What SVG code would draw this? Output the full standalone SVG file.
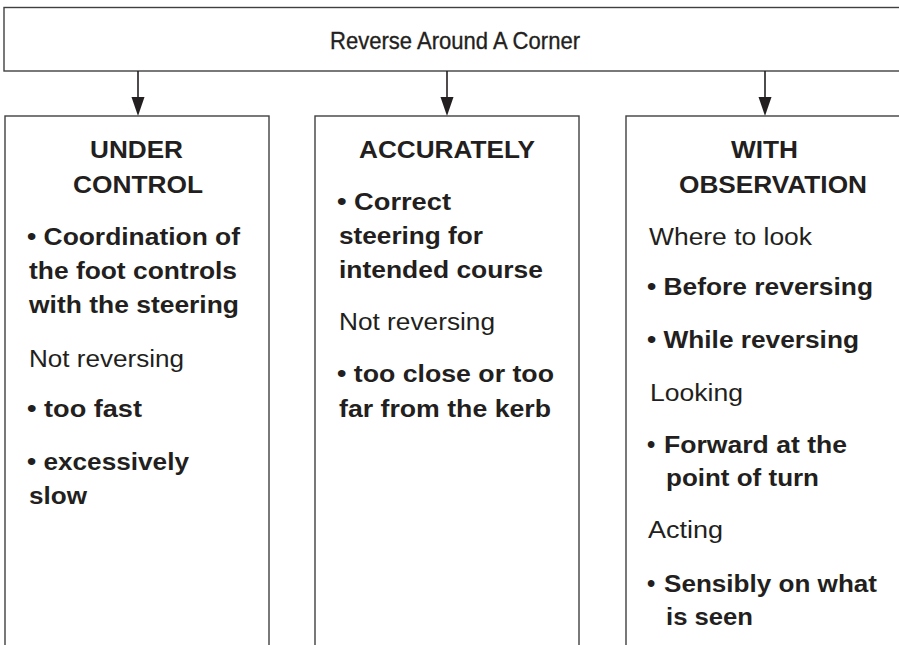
<svg xmlns="http://www.w3.org/2000/svg" width="899" height="645" viewBox="0 0 899 645">
<defs>
<style>
.box{fill:#fff;stroke:#404040;stroke-width:1.4}
.t{font-family:"Liberation Sans",Arial,sans-serif;font-size:23.5px;fill:#231f20}
.b{font-weight:bold}
.title{font-family:"Liberation Sans",Arial,sans-serif;font-size:24.5px;fill:#231f20;stroke:#231f20;stroke-width:0.35}
.conn{stroke:#231f20;stroke-width:1.6;fill:none}
.head{fill:#231f20}
</style>
</defs>
<rect width="899" height="645" fill="#fff"/>

<g id="top">
<rect class="box" x="4" y="7.5" width="910" height="63.5"/>
<text class="title" x="330" y="49" textLength="250" lengthAdjust="spacingAndGlyphs">Reverse Around A Corner</text>
</g>

<g id="connectors">
<line class="conn" x1="138" y1="71" x2="138" y2="97"/>
<path class="head" d="M131.5,97 L144.5,97 L138,116 Z"/>
<line class="conn" x1="447" y1="71" x2="447" y2="97"/>
<path class="head" d="M440.5,97 L453.5,97 L447,116 Z"/>
<line class="conn" x1="765" y1="71" x2="765" y2="97"/>
<path class="head" d="M758.5,97 L771.5,97 L765,116 Z"/>
</g>

<g id="under-control">
<rect class="box" x="5" y="116" width="264" height="540"/>
<text class="t b" x="90" y="158" textLength="93" lengthAdjust="spacingAndGlyphs">UNDER</text>
<text class="t b" x="73" y="193" textLength="130" lengthAdjust="spacingAndGlyphs">CONTROL</text>
<text class="t b" x="27" y="245" textLength="213" lengthAdjust="spacingAndGlyphs">• Coordination of</text>
<text class="t b" x="29" y="279" textLength="208" lengthAdjust="spacingAndGlyphs">the foot controls</text>
<text class="t b" x="29" y="313" textLength="210" lengthAdjust="spacingAndGlyphs">with the steering</text>
<text class="t" x="29" y="367" textLength="155" lengthAdjust="spacingAndGlyphs">Not reversing</text>
<text class="t b" x="27" y="417" textLength="115" lengthAdjust="spacingAndGlyphs">• too fast</text>
<text class="t b" x="27" y="470" textLength="162" lengthAdjust="spacingAndGlyphs">• excessively</text>
<text class="t b" x="29" y="504" textLength="58" lengthAdjust="spacingAndGlyphs">slow</text>
</g>

<g id="accurately">
<rect class="box" x="315" y="116" width="264" height="540"/>
<text class="t b" x="359" y="158" textLength="176" lengthAdjust="spacingAndGlyphs">ACCURATELY</text>
<text class="t b" x="337" y="210" textLength="114" lengthAdjust="spacingAndGlyphs">• Correct</text>
<text class="t b" x="339" y="244" textLength="144" lengthAdjust="spacingAndGlyphs">steering for</text>
<text class="t b" x="339" y="278" textLength="204" lengthAdjust="spacingAndGlyphs">intended course</text>
<text class="t" x="339" y="330" textLength="156" lengthAdjust="spacingAndGlyphs">Not reversing</text>
<text class="t b" x="337" y="382" textLength="217" lengthAdjust="spacingAndGlyphs">• too close or too</text>
<text class="t b" x="339" y="417" textLength="212" lengthAdjust="spacingAndGlyphs">far from the kerb</text>
</g>

<g id="with-observation">
<rect class="box" x="626" y="116" width="290" height="540"/>
<text class="t b" x="731" y="158" textLength="67" lengthAdjust="spacingAndGlyphs">WITH</text>
<text class="t b" x="679" y="193" textLength="188" lengthAdjust="spacingAndGlyphs">OBSERVATION</text>
<text class="t" x="649" y="245" textLength="163" lengthAdjust="spacingAndGlyphs">Where to look</text>
<text class="t b" x="647" y="295" textLength="226" lengthAdjust="spacingAndGlyphs">• Before reversing</text>
<text class="t b" x="647" y="348" textLength="212" lengthAdjust="spacingAndGlyphs">• While reversing</text>
<text class="t" x="650" y="401" textLength="93" lengthAdjust="spacingAndGlyphs">Looking</text>
<text class="t b" x="647" y="453">•<tspan x="664" textLength="183" lengthAdjust="spacingAndGlyphs">Forward at the</tspan></text>
<text class="t b" x="666" y="486" textLength="153" lengthAdjust="spacingAndGlyphs">point of turn</text>
<text class="t" x="648" y="538" textLength="75" lengthAdjust="spacingAndGlyphs">Acting</text>
<text class="t b" x="647" y="592">•<tspan x="664" textLength="213" lengthAdjust="spacingAndGlyphs">Sensibly on what</tspan></text>
<text class="t b" x="666" y="625" textLength="87" lengthAdjust="spacingAndGlyphs">is seen</text>
</g>
</svg>
